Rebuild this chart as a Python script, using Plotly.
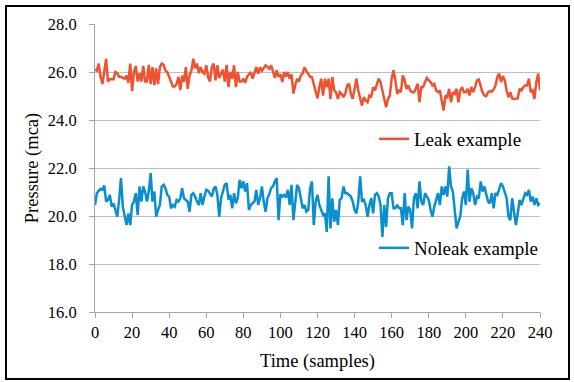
import plotly.graph_objects as go

samples = list(range(0, 241))

leak = [
    26.10, 26.05, 26.35, 25.80, 25.50, 26.00, 26.55, 25.60, 25.70, 25.70,
    25.70, 26.00, 25.95, 25.80, 25.80, 25.75, 25.72, 25.85, 25.55, 26.35,
    25.20, 26.00, 26.25, 25.60, 25.95, 25.60, 26.25, 25.60, 25.60, 26.30,
    25.50, 26.20, 25.45, 26.15, 25.50, 26.20, 26.35, 26.30, 26.05, 26.00,
    25.80, 25.60, 25.40, 25.40, 25.50, 25.80, 25.25, 25.85, 25.60, 26.20,
    25.30, 25.85, 26.05, 26.55, 26.15, 26.35, 25.95, 26.20, 26.00, 25.93,
    26.28, 25.80, 25.60, 26.20, 26.35, 25.65, 26.28, 25.75, 25.95, 26.10,
    25.60, 26.30, 25.37, 26.00, 25.72, 26.28, 25.37, 26.00, 25.60, 25.60,
    25.72, 25.55, 25.80, 25.93, 26.00, 25.72, 26.00, 26.20, 25.93, 26.20,
    26.05, 26.15, 26.28, 26.21, 26.14, 26.28, 25.95, 25.75, 26.07, 25.80,
    25.90, 25.58, 26.00, 25.80, 26.00, 25.72, 25.90, 25.10, 25.45, 25.72,
    25.60, 25.86, 25.93, 26.20, 26.05, 25.90, 25.80, 25.79, 25.50, 25.25,
    24.90, 25.37, 25.72, 25.02, 25.72, 25.37, 25.72, 24.88, 25.79, 25.23,
    25.16, 24.88, 25.16, 25.09, 24.95, 25.09, 25.44, 25.51, 25.09, 24.88,
    25.37, 25.72, 25.23, 24.95, 24.60, 24.95, 24.81, 24.74, 25.02, 24.95,
    25.37, 25.23, 25.51, 25.72, 25.58, 25.23, 24.95, 24.53, 24.88, 25.02,
    25.72, 26.07, 25.65, 25.09, 25.23, 25.16, 25.86, 25.65, 25.30, 25.44,
    25.23, 25.16, 25.16, 25.30, 25.51, 24.74, 25.37, 25.37, 25.58, 25.75,
    25.65, 25.58, 25.44, 25.51, 25.23, 25.16, 25.23, 24.88, 24.39, 25.02,
    24.95, 25.30, 24.74, 25.16, 25.09, 25.30, 24.74, 25.23, 25.37, 25.16,
    25.16, 25.30, 25.02, 25.37, 25.16, 25.37, 25.65, 25.69, 25.44, 25.16,
    25.02, 24.99, 25.16, 25.20, 25.18, 25.27, 25.44, 25.79, 25.93, 25.58,
    25.83, 25.65, 25.23, 24.95, 25.16, 24.90, 24.88, 24.88, 24.90, 25.30,
    25.23, 25.37, 25.44, 25.44, 25.72, 25.16, 25.23, 24.88, 25.58, 25.93,
    25.23,
]

noleak = [
    20.46, 20.95, 21.05, 21.13, 21.09, 21.27, 20.60, 20.67, 20.88, 20.39,
    20.53, 20.18, 19.97, 20.67, 21.58, 20.39, 20.04, 19.62, 20.11, 19.62,
    20.46, 20.60, 20.95, 20.04, 21.23, 20.60, 21.23, 21.02, 20.60, 21.02,
    21.79, 20.60, 21.02, 19.97, 20.25, 20.46, 21.23, 21.30, 21.16, 20.88,
    20.81, 20.32, 20.46, 20.39, 20.67, 20.60, 20.74, 21.16, 20.74, 20.67,
    20.60, 20.18, 20.88, 20.95, 20.81, 20.60, 20.46, 20.95, 20.46, 20.81,
    21.09, 21.05, 20.91, 20.81, 21.13, 21.23, 20.88, 19.97, 20.74, 21.02,
    21.30, 21.37, 20.67, 20.88, 20.32, 20.95, 20.53, 20.74, 21.51, 21.16,
    21.44, 21.02, 21.37, 20.25, 20.46, 20.53, 20.60, 21.09, 20.46, 20.74,
    21.23, 20.60, 20.18, 20.74, 20.91, 21.16, 21.23, 21.44, 21.58, 19.83,
    20.91, 20.81, 20.88, 20.77, 21.09, 20.46, 21.30, 19.83, 20.74, 21.30,
    21.16, 20.74, 20.32, 20.46, 20.18, 20.25, 21.16, 21.44, 19.62, 20.60,
    20.88, 20.46, 20.25, 20.04, 20.11, 19.34, 21.65, 19.48, 20.74, 19.76,
    20.25, 19.62, 20.67, 20.74, 21.23, 20.95, 20.95, 20.88, 20.81, 20.60,
    20.25, 20.11, 20.60, 21.65, 20.60, 20.67, 20.46, 19.97, 20.46, 20.74,
    20.11, 20.88, 20.95, 20.81, 20.46, 19.13, 20.46, 19.55, 20.74, 20.95,
    20.95, 20.32, 20.32, 20.46, 20.32, 20.32, 19.62, 20.95, 19.83, 20.39,
    20.25, 19.48, 20.74, 20.95, 20.32, 21.44, 20.60, 20.46, 20.95, 20.81,
    20.67, 20.25, 19.97, 20.39, 20.74, 20.95, 20.46, 21.23, 20.88, 21.23,
    20.81, 22.07, 21.23, 21.02, 20.25, 19.48, 19.76, 19.97, 20.74, 21.02,
    20.46, 21.93, 20.60, 21.16, 20.95, 20.46, 20.81, 20.74, 21.44, 21.02,
    21.23, 20.88, 20.60, 20.53, 20.95, 20.32, 20.95, 20.88, 21.09, 21.37,
    21.23, 21.02, 20.74, 19.97, 19.83, 20.74, 20.25, 19.62, 20.11, 20.67,
    20.46, 20.74, 20.95, 20.88, 21.09, 20.60, 20.81, 20.46, 20.74, 20.46,
    20.53,
]

x_ticks = [0, 20, 40, 60, 80, 100, 120, 140, 160, 180, 200, 220, 240]
y_ticks = [16, 18, 20, 22, 24, 26, 28]

RED = "#EF5230"
BLUE = "#0A8FCE"
FONT = "'Liberation Serif', 'Times New Roman', serif"

fig = go.Figure()
fig.add_trace(go.Scatter(x=samples, y=leak, mode="lines", name="Leak example",
                         line=dict(color=RED, width=2.5), legend="legend"))
fig.add_trace(go.Scatter(x=samples, y=noleak, mode="lines", name="Noleak example",
                         line=dict(color=BLUE, width=2.5), legend="legend2"))

W, H = 574, 382
L, R, T, B = 95, 34, 24, 70
pw, ph = W - L - R, H - T - B

def px2paper_x(px):
    return (px - L) / pw

def px2paper_y(py):
    return (H - B - py) / ph

fig.update_layout(
    width=W, height=H,
    margin=dict(l=L, r=R, t=T, b=B, autoexpand=False),
    paper_bgcolor="white", plot_bgcolor="white",
    font=dict(family=FONT, size=16, color="#000000"),
    showlegend=True,
    legend=dict(x=px2paper_x(374), y=px2paper_y(139), xanchor="left", yanchor="middle",
                bgcolor="rgba(0,0,0,0)", font=dict(family=FONT, size=19),
                itemwidth=30),
    legend2=dict(x=px2paper_x(374), y=px2paper_y(248), xanchor="left", yanchor="middle",
                 bgcolor="rgba(0,0,0,0)", font=dict(family=FONT, size=19),
                 itemwidth=30),
    xaxis=dict(range=[0, 240], tickvals=x_ticks, ticktext=[str(v) for v in x_ticks],
               showgrid=False, zeroline=False, showline=True, linecolor="#A6A6A6",
               linewidth=1, ticks="outside", ticklen=5, tickcolor="#A6A6A6",
               tickfont=dict(family=FONT, size=16.5),
               title=dict(text="Time (samples)", font=dict(family=FONT, size=18.5), standoff=13)),
    yaxis=dict(range=[16, 28], tickvals=y_ticks, ticktext=[f"{v:.1f}" for v in y_ticks],
               showgrid=True, gridcolor="#BFBFBF", gridwidth=1, zeroline=False,
               showline=True, linecolor="#A6A6A6", linewidth=1,
               ticks="outside", ticklen=5, tickcolor="#A6A6A6",
               ticklabelstandoff=9,
               tickfont=dict(family=FONT, size=16.5),
               title=dict(text="Pressure (mca)", font=dict(family=FONT, size=18.5), standoff=4)),
    shapes=[dict(type="rect", xref="paper", yref="paper",
                 x0=px2paper_x(6), x1=px2paper_x(569),
                 y0=px2paper_y(379), y1=px2paper_y(6),
                 line=dict(color="#000000", width=2), fillcolor="rgba(0,0,0,0)",
                 layer="below")],
)

fig.write_html("out.html", config={"displayModeBar": False},
               post_script="document.body.style.margin='0';")
